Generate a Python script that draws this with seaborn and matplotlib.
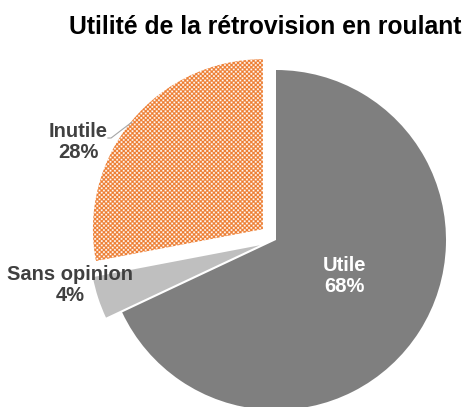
import numpy as np
import matplotlib
matplotlib.use("Agg")
import matplotlib.pyplot as plt
from matplotlib.colors import ListedColormap
import seaborn as sns

sns.set_theme(style="white")
plt.rcParams["font.family"] = ["Liberation Sans", "DejaVu Sans"]

# --- data ---
categories = ["Utile", "Sans opinion", "Inutile"]
shares = [68, 4, 28]
colors = ["#7F7F7F", "#BFBFBF", "#FFFFFF"]
explode = [0, 0.1, 0.1]
orange = "#ED7D31"
title = "Utilité de la rétrovision en roulant"

R = 170  # pixels per pie radius
fig = plt.figure(figsize=(4.7, 4.07), dpi=100)
ax = fig.add_axes([0, 0, 1, 1])

wedges, _ = ax.pie(shares, colors=colors, startangle=90, counterclock=False,
                   explode=explode, radius=1.0,
                   wedgeprops=dict(linewidth=0))

# checkerboard texture for "Inutile": ~2.2 px cells, orange slightly dominant
sub = 10                 # sub-samples per pixel
cell = 22                # cell size in sub-samples
npx = 220
yy, xx = np.mgrid[0:npx * sub, 0:npx * sub]
on = ((xx // cell + yy // cell) % 2) == 1
edge = ((xx % cell) < 2) | ((xx % cell) > cell - 3) | ((yy % cell) < 2) | ((yy % cell) > cell - 3)
checker = (on | edge).astype(float)
x0, y0 = (50 - 276) / R, (240 - 262) / R
span = npx / R
img = ax.imshow(checker, cmap=ListedColormap(["white", orange]),
                extent=(x0, x0 + span, y0, y0 + span),
                interpolation="antialiased", zorder=3, origin="lower")
img.set_clip_path(wedges[2])

# labels
lab = dict(ha="center", va="center", fontsize=14.5, fontweight="bold",
           linespacing=1.15, zorder=5)
ax.text(0.405, -0.21, f"{categories[0]}\n{shares[0]}%", color="white", **lab)
ax.text(-1.21, -0.265, f"{categories[1]}\n{shares[1]}%", color="#404040", **lab)
ax.text(-1.165, 0.575, f"{categories[2]}\n{shares[2]}%", color="#404040", **lab)
ax.plot([-0.99, -0.97, -0.847], [0.6, 0.6, 0.694], color="#A6A6A6", lw=0.8, zorder=4)

fig.text(265 / 470, 1 - 27 / 407, title, ha="center", va="center",
         fontsize=17.8, fontweight="bold", color="black")

ax.set_xlim(-276 / R, (470 - 276) / R)
ax.set_ylim((240 - 407) / R, 240 / R)
ax.set_aspect("equal")
ax.axis("off")

fig.savefig("out.png", dpi=100)
